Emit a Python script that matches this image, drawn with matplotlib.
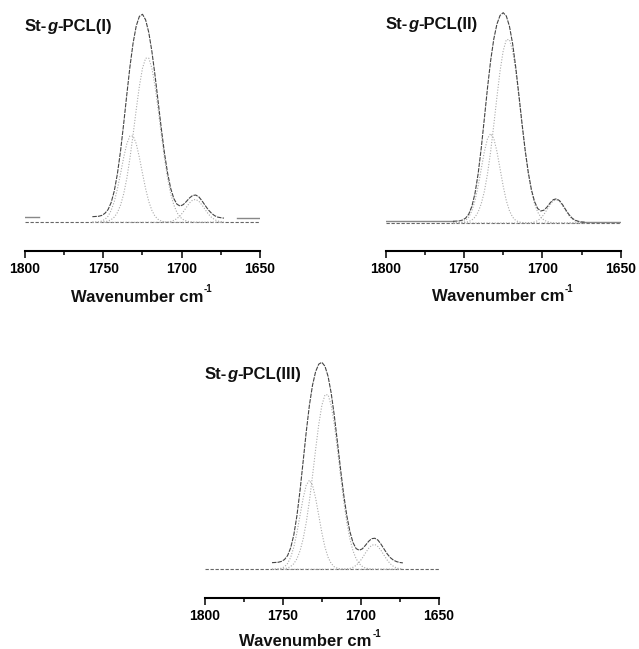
import numpy as np
import matplotlib
matplotlib.use('Agg')
import matplotlib.pyplot as plt
from matplotlib.ticker import FixedLocator

plt.rcParams['font.family'] = ['Liberation Sans', 'DejaVu Sans']

# ---- data (absorbance, normalised to the fitted peak = 1000) ----
wavenumber = list(range(1757, 1672, -2))   # 43 points, 1757 ... 1673 cm-1

# St-g-PCL(I)
p1_band1 = [0, 1, 2, 6, 14, 29, 57, 100, 161, 235, 312, 378, 415, 415, 378, 312, 235, 161, 100, 57, 29, 14,
            6, 2, 1, 0, 0, 0, 0, 0, 0, 0, 0, 0, 0, 0, 0, 0, 0, 0, 0, 0, 0]
p1_band2 = [0, 0, 0, 1, 3, 6, 13, 25, 47, 83, 137, 212, 309, 422, 542, 654, 741, 789, 789, 741, 654, 542,
            422, 309, 212, 137, 83, 47, 25, 13, 6, 3, 1, 0, 0, 0, 0, 0, 0, 0, 0, 0, 0]
p1_band3 = [0, 0, 0, 0, 0, 0, 0, 0, 0, 0, 0, 0, 0, 0, 0, 0, 0, 0, 0, 0, 0, 0,
            0, 1, 2, 4, 9, 18, 31, 50, 72, 93, 107, 110, 101, 83, 61, 40, 24, 13, 6, 3, 1]
p1_fit = [27, 28, 29, 33, 43, 61, 95, 151, 234, 344, 475, 615, 749, 862, 944, 990, 1000, 973, 913, 821, 706, 579,
          451, 334, 237, 163, 114, 87, 78, 85, 100, 117, 129, 131, 122, 103, 81, 60, 44, 32, 25, 22, 20]
p1_ends_x = [[1800, 1791], [1664.5, 1650.5]]
p1_ends_y = [[27, 27], [19, 19]]

# St-g-PCL(II)
p2_band1 = [0, 1, 2, 5, 12, 28, 58, 106, 175, 258, 340, 402, 425, 402, 340, 258, 175, 106, 58, 28, 12, 5,
            2, 1, 0, 0, 0, 0, 0, 0, 0, 0, 0, 0, 0, 0, 0, 0, 0, 0, 0, 0, 0]
p2_band2 = [0, 0, 0, 1, 3, 7, 14, 28, 52, 92, 151, 235, 341, 467, 599, 723, 819, 872, 872, 819, 723, 599,
            467, 341, 235, 151, 92, 52, 28, 14, 7, 3, 1, 0, 0, 0, 0, 0, 0, 0, 0, 0, 0]
p2_band3 = [0, 0, 0, 0, 0, 0, 0, 0, 0, 0, 0, 0, 0, 0, 0, 0, 0, 0, 0, 0, 0, 0,
            0, 0, 1, 2, 5, 11, 23, 41, 64, 88, 105, 110, 101, 81, 57, 35, 19, 9, 4, 1, 0]
p2_fit = [8, 9, 10, 14, 23, 42, 79, 141, 234, 357, 499, 644, 773, 875, 946, 987, 1000, 984, 935, 853, 741, 610,
          474, 348, 241, 159, 102, 69, 57, 61, 76, 96, 111, 115, 106, 86, 62, 40, 23, 13, 8, 5, 4]
p2_ends_x = [[1800, 1757], [1675, 1650]]
p2_ends_y = [[8, 8], [4, 4]]

# St-g-PCL(III)
p3_band1 = [0, 1, 2, 5, 12, 28, 58, 107, 177, 261, 344, 407, 430, 407, 344, 261, 177, 107, 58, 28, 12, 5,
            2, 1, 0, 0, 0, 0, 0, 0, 0, 0, 0, 0, 0, 0, 0, 0, 0, 0, 0, 0, 0]
p3_band2 = [0, 0, 0, 1, 3, 6, 14, 27, 51, 89, 147, 227, 330, 451, 579, 699, 792, 843, 843, 792, 699, 579,
            451, 330, 227, 147, 89, 51, 27, 14, 6, 3, 1, 0, 0, 0, 0, 0, 0, 0, 0, 0, 0]
p3_band3 = [0, 0, 0, 0, 0, 0, 0, 0, 0, 0, 0, 0, 0, 0, 0, 0, 0, 0, 0, 0, 0, 0,
            0, 1, 2, 4, 10, 19, 34, 55, 79, 101, 116, 120, 110, 91, 67, 44, 26, 14, 6, 3, 1]
p3_fit = [32, 33, 34, 38, 47, 66, 104, 166, 259, 381, 522, 665, 792, 889, 955, 991, 1000, 981, 932, 851, 742, 615,
          484, 362, 260, 182, 129, 100, 92, 99, 116, 135, 148, 150, 141, 121, 97, 74, 56, 44, 37, 33, 31]
p3_ends_x = []
p3_ends_y = []

sample_names = ['I', 'II', 'III']
major_ticks = [1800, 1750, 1700, 1650]
minor_ticks = [1775, 1725, 1675]

# ---- figure ----
W, H = 639, 649
fig = plt.figure(figsize=(6.39, 6.49), dpi=100)
renderer = fig.canvas.get_renderer()


def px_text(xp, yp, s, **kw):
    return fig.text(xp / W, 1 - yp / H, s, va='baseline', ha='left', color='#111', **kw)


def pieces(xp, yp, parts, center=False):
    widths = []
    for s, kw, dy, adv in parts:
        t = px_text(0, 0, s, **kw)
        widths.append(t.get_window_extent(renderer).width + adv)
        t.remove()
    x0 = xp - (sum(widths) / 2 if center else 0)
    for (s, kw, dy, adv), w in zip(parts, widths):
        px_text(x0, yp - dy, s, **kw)
        x0 += w


panels = [
    # data, axis left/right px, axis-line y, zero y, peak y, top y, title baseline, label centre x, label baseline
    ((p1_band1, p1_band2, p1_band3, p1_fit, p1_ends_x, p1_ends_y), 25, 260, 250.7, 222.3, 14.3, 5, 30.8, 141.5, 301.7),
    ((p2_band1, p2_band2, p2_band3, p2_fit, p2_ends_x, p2_ends_y), 385.7, 620.7, 250.7, 223.0, 12.7, 5, 28.8, 502.5, 301.0),
    ((p3_band1, p3_band2, p3_band3, p3_fit, p3_ends_x, p3_ends_y), 205, 438.7, 597.7, 569.3, 362.3, 352, 379.0, 310.0, 646.5),
]
B = dict(fontsize=12, fontweight='bold')
BI = dict(fontsize=12, fontweight='bold', fontstyle='italic')
SUP = dict(fontsize=7, fontweight='bold')

for name, (data, l, r, ay, zy, py, ty, tyb, lx, lyb) in zip(sample_names, panels):
    b1, b2, b3, fit, ends_x, ends_y = data
    ax = fig.add_axes([l / W, 1 - ay / H, (r - l) / W, (ay - ty) / H])
    sc = (zy - py) / 1000.0
    ax.set_ylim(-(ay - zy) / sc, (zy - ty) / sc)
    ax.set_xlim(1800, 1650)
    ax.plot([1800, 1650], [0, 0], color='#666', lw=0.8, ls=(0, (3, 1.5)))
    for ex, ey in zip(ends_x, ends_y):
        ax.plot(ex, ey, color='#888', lw=1.0)
    for band in (b1, b2, b3):
        ax.plot(wavenumber, band, color='#aaa', lw=0.8, ls=(0, (1, 1.5)))
    ax.plot(wavenumber, fit, color='#444', lw=0.8, ls=(0, (4, 1)))
    for s in ('top', 'left', 'right'):
        ax.spines[s].set_visible(False)
    ax.spines['bottom'].set_linewidth(1.5)
    ax.set_yticks([])
    ax.xaxis.set_major_locator(FixedLocator(major_ticks))
    ax.xaxis.set_minor_locator(FixedLocator(minor_ticks))
    ax.tick_params(axis='x', which='major', direction='out', length=4.8, width=1.1, labelsize=10, pad=3)
    ax.tick_params(axis='x', which='minor', direction='out', length=3.1, width=1.1)
    for lab in ax.get_xticklabels():
        lab.set_fontweight('bold')
    ax.patch.set_visible(False)
    pieces(l, tyb, [('St-', B, 0, 0.2), ('g', BI, 0, 0.2), ('-PCL(%s)' % name, B, 0, 0)])
    pieces(lx, lyb, [('Wavenumber cm', B, 0, 0.8), ('-1', SUP, 9.5, 0)], center=True)

fig.savefig('out.png', dpi=100)
